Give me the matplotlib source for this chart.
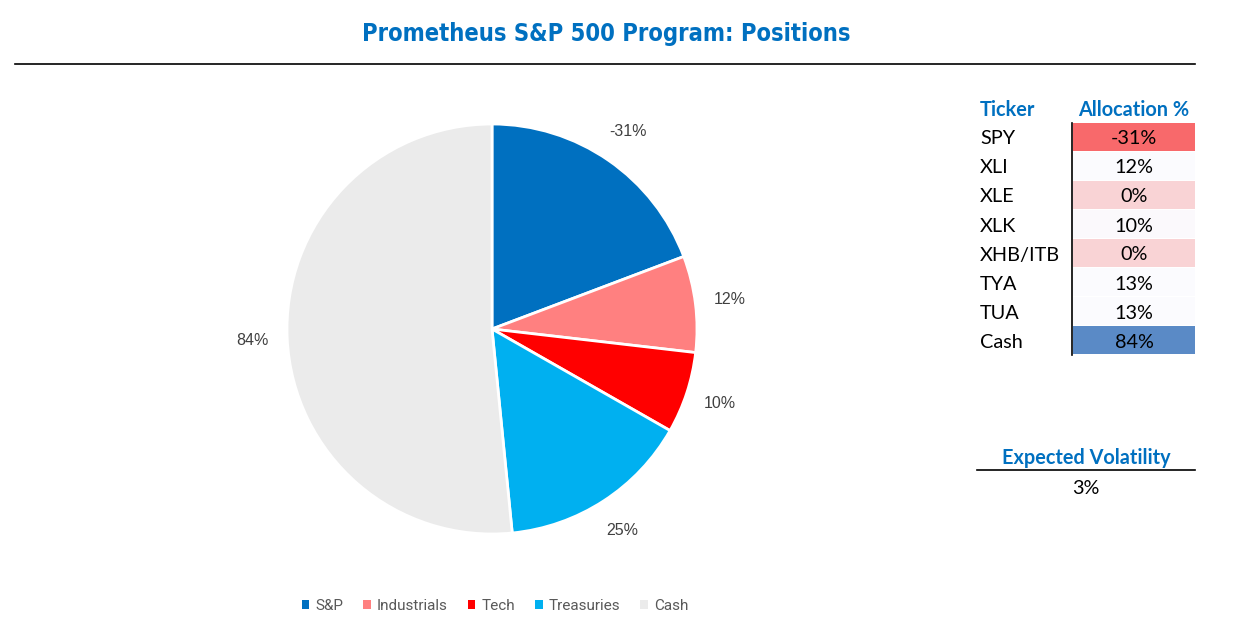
import matplotlib
matplotlib.use("Agg")
import matplotlib.pyplot as plt
from matplotlib.patches import Rectangle
from matplotlib.lines import Line2D
import numpy as np

W, H = 1247, 636

# ---- data ----
categories = ["S&P", "Industrials", "Tech", "Treasuries", "Cash"]
values = [-31.2, 12.3, 10.4, 24.6, 83.6]
colors = ["#0070C0", "#FF8080", "#FF0000", "#00B0F0", "#EBEBEB"]

tickers = ["SPY", "XLI", "XLE", "XLK", "XHB/ITB", "TYA", "TUA", "Cash"]
allocations = [-31, 12, 0, 10, 0, 13, 13, 84]
alloc_colors = ["#F8696B", "#FBFBFE", "#F9D3D5", "#FBF9FC", "#F9D3D5", "#FBFBFE", "#FBFBFE", "#5A8AC6"]

expected_vol = 3

fig = plt.figure(figsize=(W / 100, H / 100), dpi=100)
fig.patch.set_facecolor("white")

def fx(x):
    return x / W

def fy(y):
    return 1 - y / H

# ---- title ----
fig.text(fx(606), fy(34), "Prometheus S&P 500 Program: Positions",
         ha="center", va="center", fontsize=17, fontweight="bold", fontstretch="condensed",
         color="#0070C0", family=["DejaVu Sans"])
fig.add_artist(Line2D([fx(15), fx(1195)], [fy(64), fy(64)], color="black", lw=1.2))

# ---- pie ----
cx, cy, R = 492, 329, 205
half = 270
ax = fig.add_axes([fx(cx - half), fy(cy + half), 2 * half / W, 2 * half / H])
abs_vals = [abs(v) for v in values]
wedges, _ = ax.pie(abs_vals, colors=colors, startangle=90, counterclock=False,
                   radius=1.0, wedgeprops=dict(edgecolor="white", linewidth=2))
ax.set_xlim(-half / R, half / R)
ax.set_ylim(-half / R, half / R)
ax.set_aspect("equal")
ax.axis("off")
for w, v in zip(wedges, values):
    ang = np.deg2rad((w.theta1 + w.theta2) / 2)
    d = 1.17
    ax.text(d * np.cos(ang), d * np.sin(ang), f"{round(v)}%", ha="center", va="center",
            fontsize=11.5, color="#404040", family=["Liberation Sans", "DejaVu Sans"])

# ---- legend ----
leg = fig.legend(wedges, categories, loc="center", bbox_to_anchor=(fx(495), fy(606)),
                 ncol=5, frameon=False, handlelength=0.5, handleheight=0.5,
                 handletextpad=0.4, columnspacing=1.3,
                 prop=dict(family=["Roboto", "DejaVu Sans"], size=11))
for t in leg.get_texts():
    t.set_color("#595959")
for h in leg.legend_handles:
    h.set_edgecolor("none")

# ---- table ----
tfont = ["Lato", "DejaVu Sans"]
fs = 14.3
fig.text(fx(1007), fy(110), "Ticker", ha="center", va="center", fontsize=fs,
         fontweight="bold", color="#0070C0", family=tfont)
fig.text(fx(1134), fy(110), "Allocation %", ha="center", va="center", fontsize=fs,
         fontweight="bold", color="#0070C0", family=tfont)
row_h = 29
top = 123
for i, (tk, al, col) in enumerate(zip(tickers, allocations, alloc_colors)):
    y0 = top + i * row_h
    fig.add_artist(Rectangle((fx(1073), fy(y0 + row_h - 1)), (1195 - 1073) / W, (row_h - 1) / H,
                             facecolor=col, edgecolor="none"))
    yc = y0 + row_h / 2 + 1.5
    fig.text(fx(980), fy(yc), tk, ha="left", va="center", fontsize=fs, color="black", family=tfont)
    fig.text(fx(1134), fy(yc), f"{al}%", ha="center", va="center", fontsize=fs,
             color="black", family=tfont)
fig.add_artist(Line2D([fx(1072), fx(1072)], [fy(top), fy(top + 8 * row_h)], color="black", lw=1.2))

# ---- expected volatility ----
fig.text(fx(1086), fy(458), "Expected Volatility", ha="center", va="center", fontsize=fs,
         fontweight="bold", color="#0070C0", family=tfont)
fig.add_artist(Line2D([fx(977), fx(1195)], [fy(470), fy(470)], color="black", lw=1.2))
fig.text(fx(1086), fy(488), f"{expected_vol}%", ha="center", va="center", fontsize=fs,
         color="black", family=tfont)

fig.savefig("out.png", dpi=100, facecolor="white")
